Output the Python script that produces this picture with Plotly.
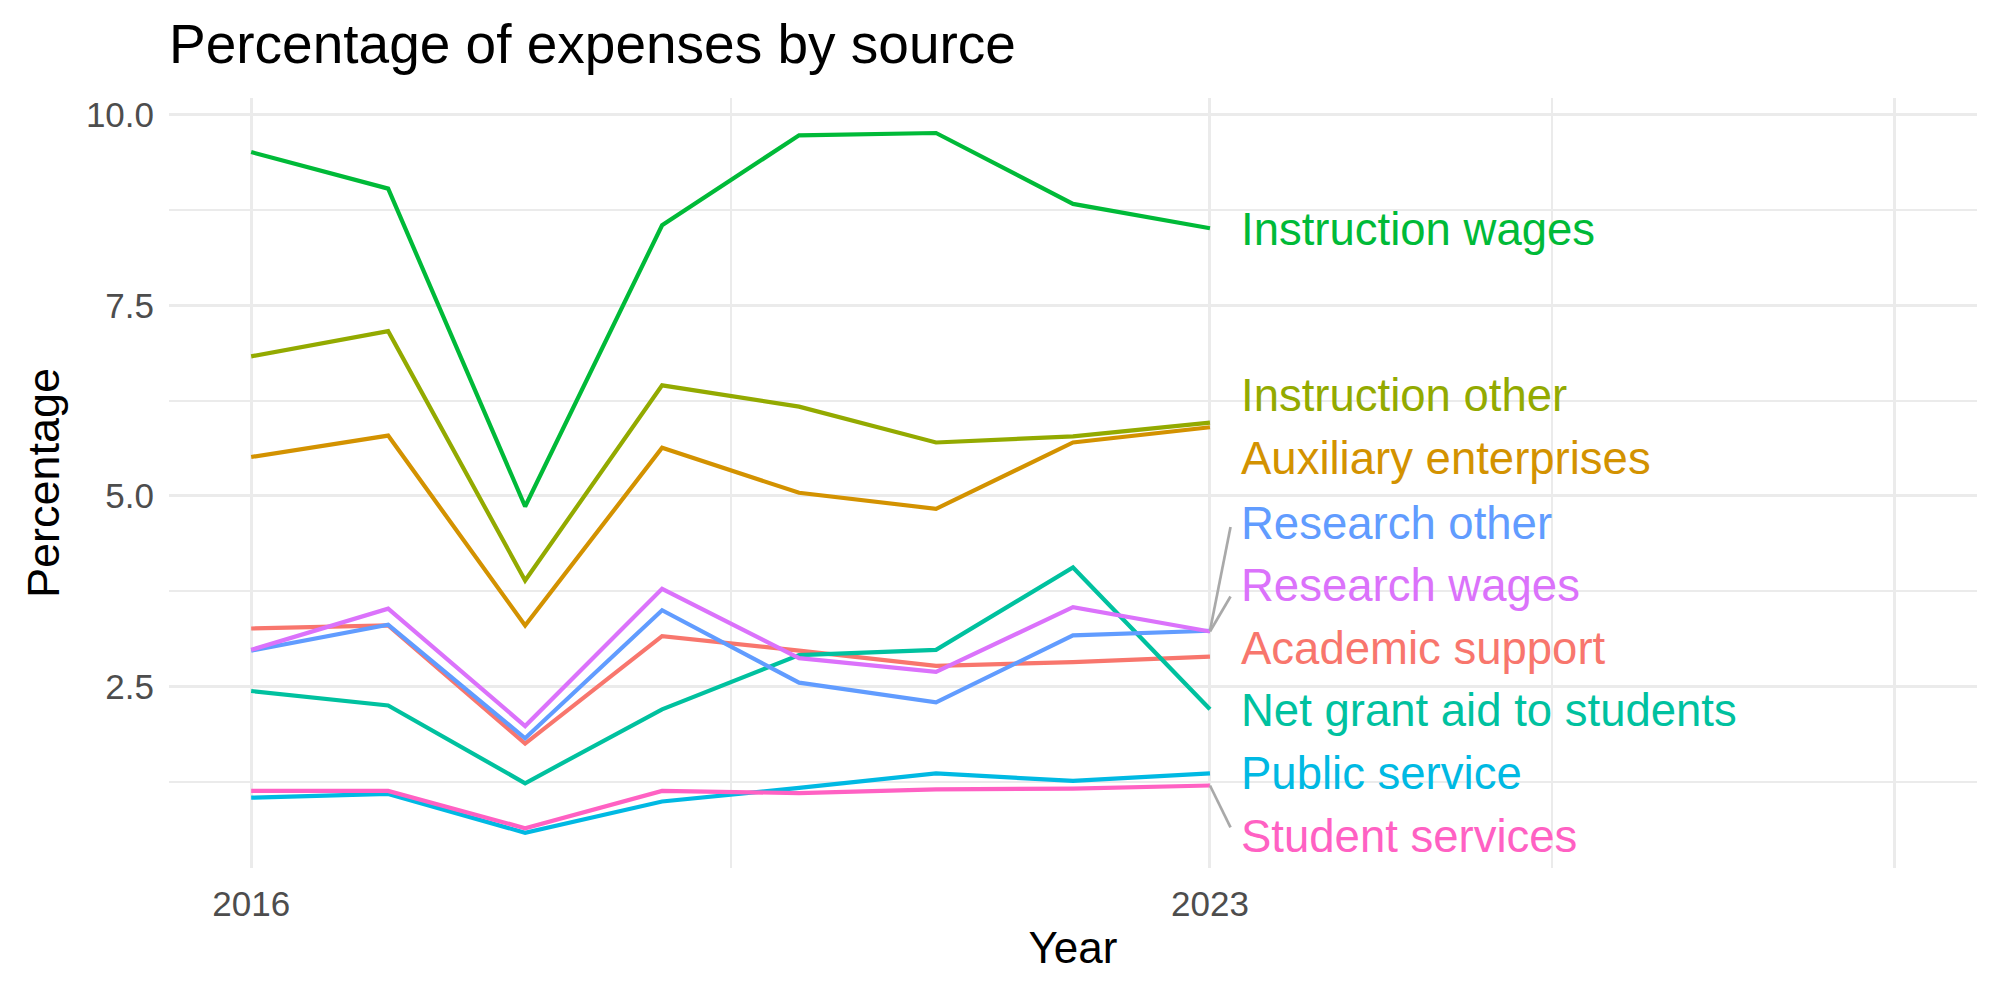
import plotly.graph_objects as go

years = [2016, 2017, 2018, 2019, 2020, 2021, 2022, 2023]

series_names = [
    "Academic support", "Auxiliary enterprises", "Instruction other",
    "Instruction wages", "Net grant aid to students", "Public service",
    "Research other", "Research wages", "Student services",
]
academic_support = [3.26, 3.30, 1.75, 3.16, 2.97, 2.77, 2.82, 2.89]
auxiliary_enterprises = [5.51, 5.79, 3.30, 5.63, 5.04, 4.83, 5.70, 5.90]
instruction_other = [6.83, 7.16, 3.89, 6.45, 6.17, 5.70, 5.78, 5.96]
instruction_wages = [9.51, 9.03, 4.86, 8.55, 9.73, 9.76, 8.83, 8.51]
net_grant_aid = [2.44, 2.25, 1.23, 2.20, 2.91, 2.98, 4.06, 2.20]
public_service = [1.04, 1.09, 0.58, 0.99, 1.17, 1.36, 1.26, 1.36]
research_other = [2.97, 3.31, 1.82, 3.50, 2.55, 2.29, 3.17, 3.23]
research_wages = [2.98, 3.52, 1.98, 3.78, 2.87, 2.69, 3.54, 3.22]
student_services = [1.13, 1.13, 0.64, 1.13, 1.10, 1.15, 1.16, 1.20]

values = [academic_support, auxiliary_enterprises, instruction_other,
          instruction_wages, net_grant_aid, public_service,
          research_other, research_wages, student_services]

colors = ["#F8766D", "#D39200", "#93AA00", "#00BA38", "#00C19F",
          "#00B9E3", "#619CFF", "#DB72FB", "#FF61C3"]

# repelled label positions (y in data units)
label_y = [3.00, 5.49, 6.31, 8.49, 2.18, 1.355, 4.635, 3.82, 0.53]
label_x = 2023.215
# repel segments: (label end x, label end y) for labels that got moved far
segments = {"Research other": (2023.15, 4.59),
            "Research wages": (2023.15, 3.68),
            "Student services": (2023.15, 0.65)}

FONT = "Liberation Sans, Arial, Helvetica, sans-serif"

fig = go.Figure()
for name, vals, col in zip(series_names, values, colors):
    fig.add_trace(go.Scatter(x=years, y=vals, mode="lines", name=name,
                             line=dict(color=col, width=4.2),
                             showlegend=False))

for name, vals in zip(series_names, values):
    if name in segments:
        ex, ey = segments[name]
        fig.add_trace(go.Scatter(x=[years[-1], ex], y=[vals[-1], ey],
                                 mode="lines", line=dict(color="#A9A9A9", width=2.7),
                                 showlegend=False, hoverinfo="skip"))

for name, ly, col in zip(series_names, label_y, colors):
    fig.add_annotation(x=label_x, y=ly, xref="x", yref="y", text=name,
                       showarrow=False, xanchor="left", yanchor="middle",
                       font=dict(family=FONT, size=45.5, color=col))

fig.update_layout(
    width=2000, height=1000,
    margin=dict(l=169, r=23, t=98, b=132),
    paper_bgcolor="white", plot_bgcolor="white",
    font=dict(family=FONT),
    title=dict(text="Percentage of expenses by source", x=169 / 2000, xref="container",
               xanchor="left", y=1 - 44 / 1000, yref="container", yanchor="middle",
               font=dict(family=FONT, size=55, color="black")),
)

fig.update_xaxes(
    range=[2015.4, 2028.6],
    tickvals=[2016, 2023, 2028], ticktext=["2016", "2023", ""],
    showgrid=True, gridcolor="#EBEBEB", gridwidth=3.4,
    zeroline=False, showline=False, ticks="",
    ticklabelstandoff=12,
    tickfont=dict(family=FONT, size=35, color="#4D4D4D"),
    minor=dict(tickvals=[2019.5, 2025.5], showgrid=True, gridcolor="#EBEBEB", gridwidth=2),
    title=dict(text="Year", font=dict(family=FONT, size=44, color="black"), standoff=10),
)
fig.update_yaxes(
    range=[0.118, 10.219],
    tickvals=[2.5, 5.0, 7.5, 10.0], ticktext=["2.5", "5.0", "7.5", "10.0"],
    showgrid=True, gridcolor="#EBEBEB", gridwidth=3.4,
    zeroline=False, showline=False, ticks="",
    ticklabelstandoff=14,
    tickfont=dict(family=FONT, size=35, color="#4D4D4D"),
    minor=dict(tickvals=[1.25, 3.75, 6.25, 8.75], showgrid=True, gridcolor="#EBEBEB", gridwidth=2),
    title=dict(text="Percentage", font=dict(family=FONT, size=45, color="black"), standoff=12),
)

fig.write_html("out.html")
